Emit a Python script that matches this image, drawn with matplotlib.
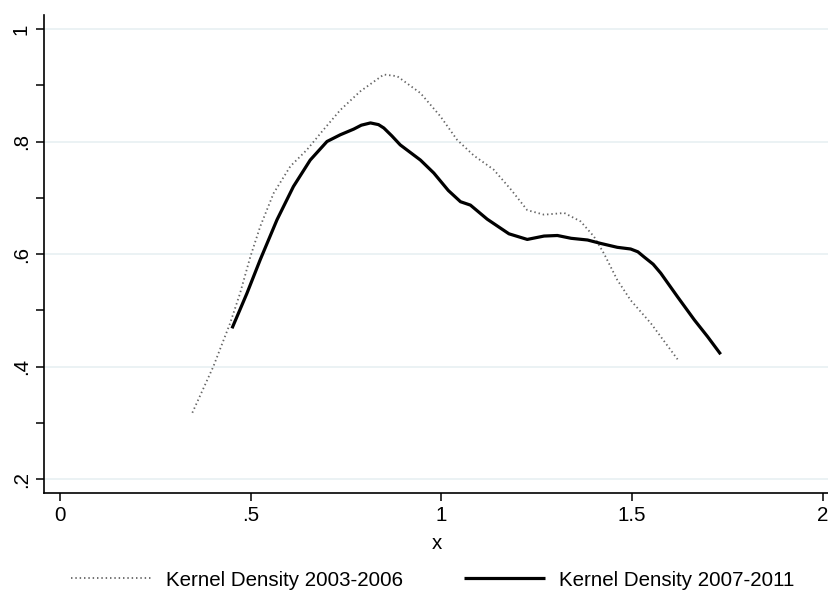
import numpy as np
import matplotlib.pyplot as plt
from matplotlib.ticker import MultipleLocator, FuncFormatter

# Kernel Density 2003-2006 (dotted)
x_0306 = [0.347, 0.402, 0.446, 0.472, 0.499, 0.525, 0.560, 0.604, 0.647, 0.691,
          0.735, 0.787, 0.849, 0.884, 0.945, 0.997, 1.041, 1.085, 1.137, 1.183,
          1.225, 1.269, 1.322, 1.365, 1.400, 1.426, 1.461, 1.496, 1.549, 1.619]
y_0306 = [0.318, 0.400, 0.477, 0.530, 0.595, 0.649, 0.708, 0.756, 0.785, 0.821,
          0.856, 0.889, 0.919, 0.916, 0.886, 0.845, 0.803, 0.775, 0.750, 0.714,
          0.678, 0.670, 0.673, 0.658, 0.631, 0.601, 0.554, 0.518, 0.477, 0.413]

# Kernel Density 2007-2011 (solid)
x_0711 = [0.451, 0.490, 0.525, 0.569, 0.612, 0.656, 0.700, 0.735, 0.770, 0.790,
          0.814, 0.835, 0.849, 0.870, 0.892, 0.945, 0.980, 1.018, 1.050, 1.076,
          1.120, 1.155, 1.177, 1.225, 1.269, 1.304, 1.340, 1.383, 1.417, 1.461,
          1.496, 1.515, 1.531, 1.555, 1.575, 1.619, 1.663, 1.698, 1.732]
y_0711 = [0.468, 0.530, 0.590, 0.661, 0.720, 0.767, 0.800, 0.812, 0.822, 0.829,
          0.833, 0.830, 0.824, 0.810, 0.794, 0.767, 0.744, 0.713, 0.693, 0.687,
          0.662, 0.646, 0.636, 0.626, 0.632, 0.633, 0.628, 0.625, 0.619, 0.612,
          0.609, 0.604, 0.595, 0.582, 0.566, 0.524, 0.483, 0.453, 0.422]

plt.rcParams['font.family'] = ['Liberation Sans', 'DejaVu Sans']

fig = plt.figure(figsize=(8.29, 5.95), dpi=100)
ax = fig.add_axes([0.053, 0.171, 0.947, 0.804])

ax.plot(x_0306, y_0306, color="#666666", lw=1.3, linestyle=(0, (0.8, 1.6)),
        label="Kernel Density 2003-2006")
ax.plot(x_0711, y_0711, color="black", lw=2.3, solid_capstyle="butt",
        solid_joinstyle="round", label="Kernel Density 2007-2011")

ax.set_xlim(-0.042, 2.016)
ax.set_ylim(0.175, 1.025)
ax.set_xticks([0, 0.5, 1, 1.5, 2])
ax.set_yticks([0.2, 0.4, 0.6, 0.8, 1.0])
ax.yaxis.set_minor_locator(MultipleLocator(0.1))

fmt = lambda v, pos: ("%g" % v).replace("0.", ".") if v < 1 else "%g" % v
ax.xaxis.set_major_formatter(FuncFormatter(fmt))
ax.yaxis.set_major_formatter(FuncFormatter(fmt))

ax.grid(True, axis="y", color="#e8f0f2", lw=1.2)
ax.set_axisbelow(True)
for s in ["top", "right"]:
    ax.spines[s].set_visible(False)
ax.spines["left"].set_linewidth(1.2)
ax.spines["bottom"].set_linewidth(1.2)

ax.tick_params(axis="both", which="major", length=6, width=1.1, labelsize=14.8)
ax.tick_params(axis="y", which="minor", length=6, width=1.1)
for lbl in ax.get_yticklabels():
    lbl.set_rotation(90)
    lbl.set_va("center")

ax.set_xlabel("x", fontsize=14.8, labelpad=6)

fig.legend(loc="lower center", bbox_to_anchor=(0.522, -0.022), ncol=2, frameon=False,
           fontsize=14.8, handlelength=3.9, handletextpad=0.7, columnspacing=3.0)

fig.savefig("out.png", dpi=100)
